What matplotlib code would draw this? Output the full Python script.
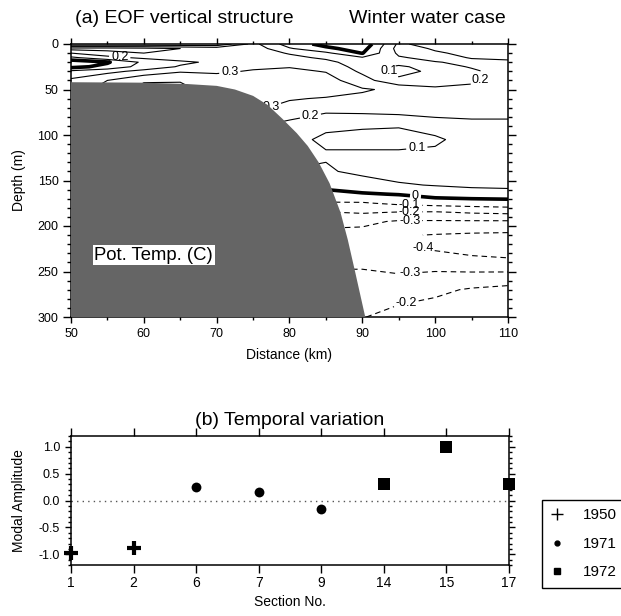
import numpy as np
import matplotlib
matplotlib.use("Agg")
import matplotlib.pyplot as plt
from matplotlib.lines import Line2D
from matplotlib.ticker import MultipleLocator

plt.rcParams['font.family'] = ['Liberation Sans', 'DejaVu Sans']

distance = [50, 55, 60, 65, 70, 75, 80, 85, 90, 95, 100, 105, 110]
depth = [0, 5, 10, 15, 20, 25, 30, 40, 50, 60, 75, 90, 105, 120, 140,
         155, 165, 175, 185, 195, 210, 225, 240, 255, 270, 300]
eof = [
    [0.01, 0.01, 0.01, 0.01, 0.01, 0.23, 0.05, -0.03, -0.08, 0.22, 0.15, 0.15, 0.15],
    [0.34, 0.34, 0.33, 0.30, 0.27, 0.26, 0.11, 0.02, -0.04, 0.24, 0.19, 0.17, 0.17],
    [0.20, 0.26, 0.30, 0.28, 0.27, 0.26, 0.19, 0.12, -0.005, 0.22, 0.21, 0.18, 0.18],
    [0.08, 0.17, 0.22, 0.25, 0.25, 0.26, 0.23, 0.18, 0.11, 0.19, 0.23, 0.195, 0.19],
    [-0.07, -0.01, 0.12, 0.18, 0.22, 0.27, 0.26, 0.23, 0.14, 0.15, 0.195, 0.22, 0.21],
    [-0.03, 0.03, 0.14, 0.21, 0.24, 0.28, 0.295, 0.26, 0.16, 0.08, 0.15, 0.21, 0.24],
    [0.12, 0.17, 0.23, 0.29, 0.28, 0.31, 0.32, 0.295, 0.18, 0.07, 0.12, 0.18, 0.25],
    [0.22, 0.30, 0.39, 0.395, 0.36, 0.35, 0.36, 0.34, 0.24, 0.12, 0.15, 0.18, 0.26],
    [0.26, 0.33, 0.43, 0.42, 0.37, 0.36, 0.38, 0.36, 0.31, 0.28, 0.22, 0.23, 0.26],
    [0.26, 0.33, 0.40, 0.40, 0.36, 0.35, 0.31, 0.29, 0.28, 0.27, 0.26, 0.25, 0.25],
    [0.26, 0.30, 0.34, 0.34, 0.32, 0.30, 0.24, 0.205, 0.21, 0.22, 0.23, 0.22, 0.22],
    [0.24, 0.26, 0.26, 0.25, 0.22, 0.21, 0.17, 0.13, 0.11, 0.105, 0.15, 0.18, 0.18],
    [0.20, 0.20, 0.20, 0.20, 0.18, 0.16, 0.15, 0.07, 0.07, 0.07, 0.08, 0.15, 0.15],
    [0.18, 0.18, 0.18, 0.17, 0.16, 0.15, 0.14, 0.11, 0.11, 0.11, 0.12, 0.14, 0.14],
    [0.15, 0.15, 0.15, 0.14, 0.13, 0.12, 0.095, 0.09, 0.12, 0.14, 0.14, 0.14, 0.135],
    [0.11, 0.11, 0.11, 0.09, 0.08, 0.06, 0.04, 0.03, 0.06, 0.09, 0.105, 0.12, 0.13],
    [0.05, 0.05, 0.04, 0.03, 0.02, 0.01, -0.02, -0.03, -0.01, 0.005, 0.04, 0.05, 0.05],
    [-0.05, -0.05, -0.06, -0.07, -0.08, -0.09, -0.11, -0.11, -0.11, -0.08, -0.06, -0.05, -0.04],
    [-0.15, -0.15, -0.16, -0.17, -0.18, -0.19, -0.205, -0.205, -0.19, -0.205, -0.21, -0.19, -0.18],
    [-0.22, -0.22, -0.23, -0.24, -0.26, -0.27, -0.28, -0.28, -0.28, -0.31, -0.31, -0.31, -0.31],
    [-0.26, -0.26, -0.27, -0.28, -0.29, -0.31, -0.32, -0.32, -0.33, -0.39, -0.405, -0.415, -0.42],
    [-0.27, -0.27, -0.28, -0.29, -0.31, -0.32, -0.33, -0.33, -0.33, -0.38, -0.41, -0.44, -0.46],
    [-0.27, -0.27, -0.28, -0.29, -0.29, -0.31, -0.31, -0.31, -0.31, -0.35, -0.34, -0.36, -0.37],
    [-0.26, -0.26, -0.27, -0.27, -0.28, -0.28, -0.29, -0.29, -0.29, -0.29, -0.28, -0.275, -0.27],
    [-0.24, -0.24, -0.24, -0.25, -0.25, -0.26, -0.26, -0.26, -0.26, -0.25, -0.22, -0.19, -0.17],
    [-0.19, -0.19, -0.19, -0.19, -0.19, -0.19, -0.195, -0.21, -0.205, -0.16, -0.15, -0.13, -0.12],
]
levels = [-0.4, -0.3, -0.2, -0.1, 0.0, 0.1, 0.2, 0.3, 0.4]

# shelf / slope outline (km, m)
bathy_x = [50, 60, 66, 70, 72.5, 75, 77, 79, 81, 82.5, 84, 85.5, 87, 88, 89, 90.4]
bathy_z = [42, 42.5, 44, 46, 50, 57, 67, 82, 98, 112, 130, 153, 185, 215, 250, 300]

# label spots along the contours
label_spots = [(56.7, 13), (71.8, 31), (77.3, 65), (82.8, 76), (93.1, 34),
               (107.5, 45), (97.5, 116), (97.3, 167), (96.5, 177), (96.5, 185),
               (96.5, 194), (98, 224), (96.5, 250), (96, 284)]

# ---- (b) temporal variation ----
sections = ['1', '2', '6', '7', '9', '14', '15', '17']
amplitude = [-0.98, -0.88, 0.25, 0.16, -0.16, 0.30, 1.0, 0.30]
year = [1950, 1950, 1971, 1971, 1971, 1972, 1972, 1972]
years = [1950, 1971, 1972]

fig = plt.figure(figsize=(6.21, 6.16), dpi=100)
W, H = 621, 616
ax = fig.add_axes([71 / W, 1 - 317 / H, 437 / W, 273 / H])
ax2 = fig.add_axes([71 / W, 1 - 565 / H, 438 / W, 129 / H])

widths = [2.6 if l == 0 else 0.8 for l in levels]
styles = [(0, (5, 3.5)) if l < 0 else 'solid' for l in levels]
cs = ax.contour(distance, depth, np.array(eof), levels=levels, colors='black',
                linewidths=widths, linestyles=styles, zorder=2)


def fmt(v):
    return '0' if abs(v) < 1e-9 else '%.1f' % v


texts = ax.clabel(cs, fmt=fmt, fontsize=9, inline=True, inline_spacing=2,
                  manual=label_spots)
for t in texts:
    t.set_rotation(0)

ax.fill(bathy_x + [50], bathy_z + [300], color='#656565', lw=0, zorder=4)
ax.text(53.2, 232, 'Pot. Temp. (C)', fontsize=13.3, va='center', ha='left',
        zorder=6, bbox=dict(facecolor='white', edgecolor='none', pad=1.0))

ax.set_xlim(50, 110)
ax.set_ylim(300, 0)
ax.set_xticks([50, 60, 70, 80, 90, 100, 110])
ax.xaxis.set_minor_locator(MultipleLocator(5))
ax.set_yticks([0, 50, 100, 150, 200, 250, 300])
ax.yaxis.set_minor_locator(MultipleLocator(10))
ax.tick_params(which='both', direction='out', top=True, right=True,
               labelsize=9, width=1)
ax.tick_params(axis='x', which='major', length=4.5)
ax.tick_params(axis='x', which='minor', length=2.2)
ax.tick_params(axis='y', which='major', length=5.5)
ax.tick_params(axis='y', which='minor', length=3)
ax.set_xlabel('Distance (km)', fontsize=10, labelpad=6)
ax.set_ylabel('Depth (m)', fontsize=10, labelpad=8)
for s in ax.spines.values():
    s.set_linewidth(1.1)
ax.text(0.01, 1.092, '(a) EOF vertical structure', transform=ax.transAxes,
        fontsize=14, ha='left', va='center')
ax.text(0.995, 1.092, 'Winter water case', transform=ax.transAxes,
        fontsize=14, ha='right', va='center')

# bottom panel
pos = list(range(len(sections)))
ax2.axhline(0, color='#555555', ls=(0, (1, 3)), lw=1, zorder=1)
marks = {1950: dict(marker='+', s=110, linewidths=3),
         1971: dict(marker='o', s=50, linewidths=0),
         1972: dict(marker='s', s=65, linewidths=0)}
for yr in years:
    xs = [p for p, y in zip(pos, year) if y == yr]
    ys = [a for a, y in zip(amplitude, year) if y == yr]
    ax2.scatter(xs, ys, color='black', clip_on=False, zorder=3, **marks[yr])

ax2.set_xlim(0, len(sections) - 1)
ax2.set_xticks(pos)
ax2.set_xticklabels(sections)
ax2.set_ylim(-1.2, 1.2)
ax2.set_yticks([-1.0, -0.5, 0.0, 0.5, 1.0])
ax2.set_yticklabels(['-1.0', '-0.5', '0.0', '0.5', '1.0'])
ax2.yaxis.set_minor_locator(MultipleLocator(0.1))
ax2.tick_params(axis='x', which='major', direction='out', top=True,
                length=5.8, width=1, labelsize=10, pad=2)
ax2.tick_params(axis='y', which='both', direction='out', right=True,
                width=1, labelsize=9)
ax2.tick_params(axis='y', which='major', length=4.3)
ax2.tick_params(axis='y', which='minor', length=2.2)
for s in ax2.spines.values():
    s.set_linewidth(1.1)
ax2.set_xlabel('Section No.', fontsize=10, labelpad=4)
ax2.set_ylabel('Modal Amplitude', fontsize=10, labelpad=9)
ax2.set_title('(b) Temporal variation', fontsize=14, pad=8)

handles = [Line2D([], [], ls='none', color='black', marker='+', ms=8, mew=1),
           Line2D([], [], ls='none', color='black', marker='o', ms=3.5),
           Line2D([], [], ls='none', color='black', marker='s', ms=5)]
leg = fig.legend(handles, [str(y) for y in years], loc='upper left',
                 bbox_to_anchor=(542 / W, 1 - 500 / H), frameon=True,
                 fancybox=False, edgecolor='black', framealpha=1,
                 borderaxespad=0, fontsize=11, labelspacing=0.95,
                 handletextpad=1.3, borderpad=0.55, handlelength=0.8)
leg.get_frame().set_linewidth(1.0)

fig.savefig('out.png', dpi=100)
